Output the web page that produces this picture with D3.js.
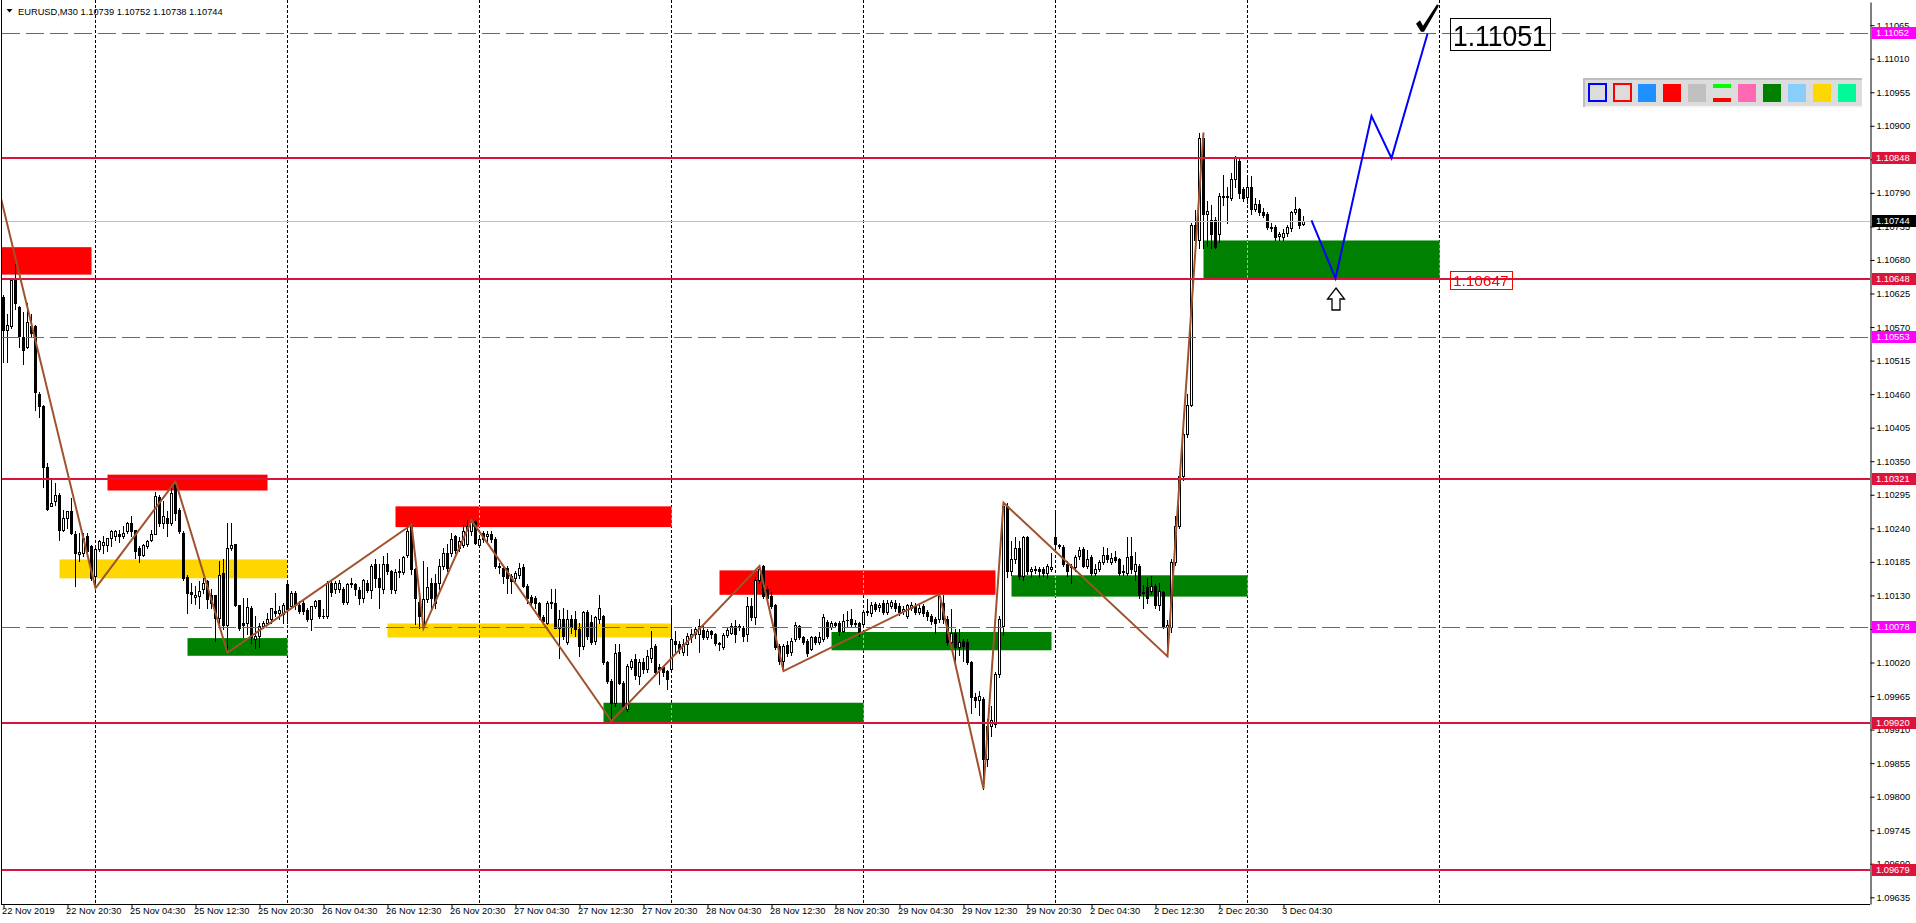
<!DOCTYPE html>
<html><head><meta charset="utf-8">
<script src="https://cdn.jsdelivr.net/npm/d3@7"></script>
<style>
html,body{margin:0;padding:0;background:#fff;overflow:hidden}
svg{display:block}
text{font-family:"Liberation Sans",Arial,sans-serif}
</style></head><body>
<svg id="c" width="1916" height="923"></svg>
<script>
// ---------- DATA (prices in points above 1.09000) ----------
const BASE = 1.09, POINT = 0.00001;
const symbolTitle = "EURUSD,M30";
const lastQuote = ["1.10739","1.10752","1.10738","1.10744"];
const barOpen = [
1620,1565,1571,1647,1603,1554,1538,1571,1571,1461,
1440,1341,1277,1284,1295,1238,1257,1268,1230,1198,
1200,1227,1211,1162,1206,1213,1213,1224,1228,1230,
1227,1235,1249,1238,1208,1197,1211,1221,1231,1292,
1249,1257,1249,1314,1270,1232,1160,1135,1128,1129,
1140,1153,1131,1130,1093,1167,1082,1208,1215,1115,
1085,1084,1110,1058,1063,1080,1085,1091,1104,1101,
1099,1148,1112,1134,1115,1118,1106,1091,1112,1123,
1096,1096,1151,1141,1140,1141,1119,1148,1148,1139,
1125,1151,1139,1181,1159,1140,1182,1170,1139,1168,
1168,1197,1246,1174,1120,1083,1124,1150,1151,1151,
1178,1200,1200,1227,1208,1212,1214,1235,1252,1212,
1232,1227,1231,1222,1178,1175,1175,1162,1159,1164,
1177,1146,1128,1125,1117,1095,1085,1117,1117,1077,
1091,1053,1091,1091,1075,1047,1102,1087,1055,1091,
1096,1020,990,954,1037,987,944,1012,1025,998,
1021,1010,1028,1047,1012,1012,1006,1009,1056,1050,
1037,1050,1062,1066,1066,1074,1061,1072,1066,1052,
1045,1065,1069,1080,1078,1077,1066,1113,1094,1156,
1178,1140,1129,1114,1047,1023,1048,1037,1058,1080,
1061,1055,1042,1061,1053,1058,1086,1079,1085,1085,
1072,1089,1092,1083,1084,1083,1102,1101,1116,1111,
1118,1103,1113,1117,1113,1104,1096,1110,1113,1103,
1113,1103,1097,1092,1091,1118,1091,1053,1069,1046,
1055,1053,1020,964,959,960,862,916,919,1001,
1080,1276,1170,1189,1208,1161,1226,1170,1172,1173,
1174,1167,1174,1225,1211,1210,1182,1178,1176,1194,
1206,1179,1193,1167,1173,1185,1196,1185,1193,1190,
1168,1167,1195,1170,1179,1136,1144,1138,1146,1114,
1135,1079,1079,1185,1243,1325,1395,1442,1738,1712,
1880,1755,1746,1746,1723,1785,1783,1782,1813,1843,
1797,1784,1800,1764,1772,1758,1756,1732,1734,1720,
1718,1725,1733,1758,1764,1739];
const barHigh = [
1622,1592,1650,1674,1605,1595,1609,1592,1573,1463,
1442,1347,1320,1314,1298,1270,1268,1290,1235,1232,
1232,1232,1213,1208,1221,1227,1224,1238,1238,1238,
1243,1251,1260,1238,1211,1215,1221,1238,1300,1295,
1284,1268,1309,1317,1273,1235,1163,1151,1145,1153,
1159,1156,1140,1131,1186,1189,1249,1249,1215,1115,
1126,1126,1112,1096,1085,1088,1101,1110,1134,1112,
1118,1151,1137,1137,1121,1123,1110,1112,1123,1123,
1107,1153,1156,1154,1156,1143,1150,1159,1150,1143,
1157,1156,1181,1189,1181,1195,1200,1172,1173,1189,
1195,1244,1247,1175,1140,1186,1176,1159,1165,1189,
1208,1214,1232,1229,1225,1246,1254,1254,1254,1228,
1236,1235,1235,1225,1183,1178,1178,1165,1170,1183,
1181,1148,1130,1129,1120,1098,1121,1140,1140,1106,
1110,1106,1098,1104,1085,1104,1106,1098,1096,1131,
1098,1023,993,1050,1050,990,1018,1026,1034,1025,
1028,1040,1072,1050,1017,1014,1008,1110,1072,1056,
1058,1068,1075,1078,1091,1080,1075,1074,1068,1054,
1068,1078,1084,1090,1083,1080,1127,1126,1160,1179,
1180,1145,1135,1116,1050,1050,1055,1060,1086,1082,
1063,1058,1063,1063,1070,1100,1090,1088,1087,1088,
1100,1105,1107,1090,1086,1104,1124,1120,1120,1117,
1122,1123,1122,1122,1118,1113,1116,1120,1118,1116,
1116,1106,1100,1095,1132,1130,1097,1108,1075,1075,
1058,1058,1023,970,973,964,928,948,1004,1096,
1282,1281,1220,1225,1219,1228,1228,1177,1178,1177,
1177,1181,1199,1265,1215,1212,1186,1181,1196,1209,
1210,1205,1197,1182,1188,1210,1208,1200,1203,1192,
1180,1226,1226,1201,1182,1147,1159,1161,1149,1151,
1138,1090,1190,1260,1330,1398,1460,1740,1762,1889,
1889,1776,1770,1750,1790,1820,1800,1822,1850,1848,
1800,1818,1818,1782,1778,1766,1758,1740,1737,1726,
1730,1738,1760,1784,1766,1752];
const barLow = [
1513,1513,1568,1600,1538,1510,1536,1554,1434,1423,
1307,1270,1276,1279,1221,1235,1240,1230,1145,1186,
1194,1194,1156,1142,1202,1200,1202,1211,1221,1217,
1224,1232,1227,1192,1184,1194,1208,1219,1230,1243,
1240,1227,1246,1254,1232,1156,1101,1118,1116,1110,
1134,1110,1110,1055,1085,1075,1036,1205,1112,1074,
1061,1066,1052,1044,1046,1077,1082,1085,1096,1091,
1085,1085,1110,1107,1101,1099,1088,1074,1110,1093,
1093,1093,1129,1134,1135,1116,1116,1143,1130,1116,
1120,1135,1126,1143,1110,1134,1165,1134,1134,1160,
1165,1193,1165,1083,1077,1076,1119,1110,1110,1140,
1173,1170,1195,1199,1202,1209,1211,1229,1214,1209,
1218,1220,1218,1175,1167,1151,1134,1134,1153,1159,
1143,1118,1115,1110,1091,1083,1083,1110,1076,1028,
1058,1050,1069,1063,1031,1042,1058,1050,1050,1085,
1017,986,923,948,984,945,940,1009,993,985,
1003,1005,1020,1000,985,998,976,1005,1034,1036,
1032,1033,1054,1060,1037,1058,1058,1060,1048,1040,
1042,1062,1066,1054,1073,1055,1055,1090,1083,1150,
1126,1118,1110,1042,1018,1006,1030,1032,1055,1058,
1050,1030,1040,1050,1050,1055,1060,1075,1078,1065,
1070,1080,1080,1078,1064,1080,1098,1097,1104,1105,
1099,1100,1110,1105,1098,1099,1093,1106,1100,1100,
1096,1090,1083,1069,1087,1085,1048,1048,1023,1032,
1023,1017,937,947,934,813,850,900,915,997,
1065,1160,1164,1183,1157,1155,1165,1160,1166,1160,
1162,1158,1170,1205,1208,1179,1162,1150,1170,1190,
1176,1175,1163,1164,1170,1182,1185,1182,1184,1163,
1163,1163,1167,1155,1126,1109,1117,1133,1109,1106,
1076,1030,1070,1180,1240,1320,1390,1440,1705,1700,
1700,1703,1700,1700,1710,1770,1740,1778,1799,1782,
1776,1774,1755,1760,1754,1750,1730,1728,1712,1713,
1712,1720,1728,1755,1733,1738];
const barClose = [
1565,1573,1647,1609,1555,1532,1579,1560,1463,1441,
1340,1272,1281,1295,1238,1257,1268,1232,1200,1201,
1224,1202,1159,1206,1219,1217,1224,1235,1235,1228,
1233,1249,1235,1202,1197,1213,1220,1231,1293,1249,
1260,1249,1298,1265,1235,1159,1134,1133,1131,1137,
1151,1124,1118,1093,1164,1082,1208,1213,1115,1077,
1082,1111,1061,1063,1080,1085,1091,1110,1101,1106,
1115,1107,1134,1115,1104,1104,1091,1112,1121,1096,
1097,1151,1135,1151,1150,1119,1148,1151,1140,1125,
1155,1139,1179,1159,1143,1182,1170,1140,1168,1170,
1193,1235,1173,1125,1096,1124,1144,1125,1118,1178,
1200,1175,1223,1204,1219,1235,1244,1250,1216,1223,
1223,1231,1222,1178,1177,1162,1159,1154,1167,1175,
1145,1126,1119,1117,1095,1088,1118,1119,1077,1091,
1064,1092,1079,1075,1047,1102,1064,1053,1094,1110,
1020,990,954,1036,987,949,1014,1023,999,1020,
1009,1031,1043,1005,1009,1005,993,1059,1050,1042,
1050,1063,1067,1075,1080,1061,1072,1066,1052,1050,
1065,1073,1080,1066,1080,1063,1113,1094,1156,1173,
1129,1126,1113,1045,1023,1047,1036,1055,1081,1061,
1054,1036,1061,1053,1061,1095,1064,1085,1082,1072,
1088,1090,1083,1084,1069,1102,1104,1115,1108,1115,
1102,1118,1119,1110,1102,1107,1114,1114,1103,1110,
1101,1096,1088,1085,1129,1091,1053,1069,1045,1053,
1047,1020,964,959,965,862,916,926,1001,1091,
1276,1170,1189,1208,1161,1226,1170,1173,1174,1170,
1167,1179,1176,1214,1212,1182,1170,1176,1193,1205,
1179,1190,1167,1173,1185,1196,1190,1191,1188,1167,
1170,1193,1173,1182,1130,1134,1126,1146,1114,1138,
1079,1082,1185,1243,1325,1395,1442,1738,1712,1880,
1755,1760,1722,1702,1785,1783,1785,1813,1848,1790,
1781,1800,1764,1772,1758,1754,1734,1734,1717,1722,
1725,1734,1758,1764,1737,1744];

const timeLabels = ["22 Nov 2019","22 Nov 20:30","25 Nov 04:30","25 Nov 12:30","25 Nov 20:30",
 "26 Nov 04:30","26 Nov 12:30","26 Nov 20:30","27 Nov 04:30","27 Nov 12:30","27 Nov 20:30",
 "28 Nov 04:30","28 Nov 12:30","28 Nov 20:30","29 Nov 04:30","29 Nov 12:30","29 Nov 20:30",
 "2 Dec 04:30","2 Dec 12:30","2 Dec 20:30","3 Dec 04:30"];
const timeLabelStep = 16;                // bars between time labels
const daySeparatorBars = [23,71,119,167,215,263,311,359];
const priceTicks = [1.09635,1.09690,1.09745,1.09800,1.09855,1.09910,1.09965,1.10020,1.10075,1.10130,
 1.10185,1.10240,1.10295,1.10350,1.10405,1.10460,1.10515,1.10570,1.10625,1.10680,1.10735,1.10790,
 1.10845,1.10900,1.10955,1.11010,1.11065];

const redLevels = [1.10848,1.10648,1.10321,1.09920,1.09679];
const magentaLevels = [1.11052,1.10553,1.10078];
const bidLevel = 1.10744;

// rectangles: [bar1, bar2, price points top, price points bottom, colour]
const zones = [
 [-1,22,1701,1656,"#ff0000"],
 [26,66,1328,1302,"#ff0000"],
 [14,71,1189,1158,"#ffd700"],
 [46,71,1060,1031,"#008000"],
 [98,167,1276,1242,"#ff0000"],
 [96,167,1084,1061,"#ffd700"],
 [150,215,954,921,"#008000"],
 [179,248,1171,1131,"#ff0000"],
 [207,262,1070,1040,"#008000"],
 [252,311,1163,1128,"#008000"],
 [300,359,1712,1648,"#008000"]
];
const zigzagBars   = [-1,23,43,56,102,105,117,152,189,195,234,245,250,291,300];
const zigzagPoints = [1791,1142,1317,1036,1246,1076,1253,924,1178,1006,1132,813,1282,1030,1889];
const forecastBars   = [327,333,342,347,356];
const forecastPoints = [1745,1650,1916,1847,2051];
const targetLabel = {bar:361.6, price:1.11051, text:"1.11051"};
const supportLabel = {bar:361.6, price:1.10648, text:"1.10647"};
const arrowMark = {bar:333, price:1.10648};
const paletteColors = ["#0000ff","#ff0000","#1e90ff","#ff0000","#c0c0c0","pair","#ff69b4","#008000","#87cefa","#ffd700","#00fa9a"];
const paletteOutlined = [true,true,false,false,false,false,false,false,false,false,false];

// ---------- SCALES ----------
const pr = v => BASE + v*POINT;
const PL = 2, PR = 1870, PT = 2, PB = 904;
const x = d3.scaleLinear().domain([0,325]).range([3.5,1303.5]);
const y = d3.scaleLinear().domain([1.09624,1.11103]).range([PB,PT]);
const sy = p => Math.round(y(p)) + 0.5;

const svg = d3.select("#c");
svg.append("rect").attr("width",1916).attr("height",923).attr("fill","#fff");
svg.append("defs").append("clipPath").attr("id","plot")
  .append("rect").attr("x",PL).attr("y",0).attr("width",PR-PL).attr("height",PB);
const plot = svg.append("g").attr("clip-path","url(#plot)");
plot.append("rect").attr("x",0).attr("y",0).attr("width",PR).attr("height",PB).attr("fill","#fff");

// zones
plot.append("g").selectAll("rect").data(zones).join("rect")
  .attr("x",d=>x(d[0])).attr("width",d=>x(d[1])-x(d[0]))
  .attr("y",d=>y(pr(d[2]))).attr("height",d=>y(pr(d[3]))-y(pr(d[2])))
  .attr("fill",d=>d[4]);

// day separators (inverting dotted grid)
plot.append("g").style("mix-blend-mode","difference").selectAll("line").data(daySeparatorBars).join("line")
  .attr("x1",d=>x(d)).attr("x2",d=>x(d)).attr("y1",0).attr("y2",PB)
  .attr("stroke","#fff").attr("stroke-width",1).attr("stroke-dasharray","3,2");

// candles
const candles = barOpen.map((o,i)=>({i,o:pr(o),h:pr(barHigh[i]),l:pr(barLow[i]),c:pr(barClose[i])}));
const cg = plot.append("g");
cg.selectAll("line.w").data(candles).join("line").attr("class","w")
  .attr("x1",d=>x(d.i)).attr("x2",d=>x(d.i))
  .attr("y1",d=>Math.round(y(d.h))).attr("y2",d=>Math.round(y(d.l))+1)
  .attr("stroke","#000").attr("stroke-width",1);
candles.forEach(d=>{
  const top = Math.round(y(Math.max(d.o,d.c))), bot = Math.round(y(Math.min(d.o,d.c)));
  if (bot-top < 1) {
    cg.append("line").attr("x1",x(d.i)-1.5).attr("x2",x(d.i)+1.5).attr("y1",top+0.5).attr("y2",top+0.5)
      .attr("stroke","#000");
  } else {
    cg.append("rect").attr("x",x(d.i)-1).attr("width",2).attr("y",top+0.5).attr("height",bot-top)
      .attr("fill",d.c>=d.o?"#fff":"#000").attr("stroke","#000").attr("stroke-width",1);
  }
});

// horizontal levels
plot.append("line").attr("x1",PL).attr("x2",PR).attr("y1",sy(bidLevel)).attr("y2",sy(bidLevel))
  .attr("stroke","#c0c0c0").attr("stroke-width",1);
plot.append("g").selectAll("line").data(magentaLevels).join("line")
  .attr("x1",PL).attr("x2",PR).attr("y1",d=>sy(d)).attr("y2",d=>sy(d))
  .attr("stroke","#ff00ff").attr("stroke-width",1).attr("stroke-dasharray","18,6");
plot.append("g").selectAll("line").data(redLevels).join("line")
  .attr("x1",PL).attr("x2",PR).attr("y1",d=>Math.round(y(d))).attr("y2",d=>Math.round(y(d)))
  .attr("stroke","#dc143c").attr("stroke-width",2);

// zigzag
const lineGen = d3.line().x(d=>x(d[0])).y(d=>y(pr(d[1])));
plot.append("path").datum(zigzagBars.map((b,i)=>[b,zigzagPoints[i]]))
  .attr("d",lineGen).attr("fill","none").attr("stroke","#a0522d").attr("stroke-width",2);
// forecast
plot.append("path").datum(forecastBars.map((b,i)=>[b,forecastPoints[i]]))
  .attr("d",lineGen).attr("fill","none").attr("stroke","#0000ff").attr("stroke-width",2);

// check mark at forecast end
{
  const cx = x(forecastBars[forecastBars.length-1]), by = y(pr(forecastPoints[forecastPoints.length-1]));
  const pts = [[-11.5,-10],[-7.5,-13.5],[-4.5,-8],[9.5,-29.5],[11.5,-28],[-3.5,-2],[-6.5,-2]];
  plot.append("path").attr("d","M"+pts.map(p=>[cx+p[0],by+p[1]].join(",")).join("L")+"Z").attr("fill","#000");
}
// hollow up arrow
{
  const ax = x(arrowMark.bar), ay = y(arrowMark.price)+8;
  const pts = [[0,0],[8.5,11],[4,11],[4,22],[-4,22],[-4,11],[-8.5,11]];
  plot.append("path").attr("d","M"+pts.map(p=>[ax+p[0]+0.5,ay+p[1]+0.5].join(",")).join("L")+"Z")
    .attr("fill","#fff").attr("stroke","#000").attr("stroke-width",1.3);
}
// text labels with frames
function framedLabel(lbl, size, width, color, padX, padTop, padBot, dyBase){
  const lx = x(lbl.bar), cyy = y(lbl.price);
  const base = cyy + dyBase;
  const capTop = base - size*0.716;
  plot.append("rect").attr("x",Math.round(lx)+0.5).attr("y",Math.round(capTop-padTop)+0.5)
    .attr("width",Math.round(width+2*padX)).attr("height",Math.round(size*0.716+padTop+padBot))
    .attr("fill","none").attr("stroke",color).attr("stroke-width",1);
  plot.append("text").attr("x",lx+padX).attr("y",base).attr("font-size",size).attr("fill",color)
    .attr("textLength",width).attr("lengthAdjust","spacingAndGlyphs").text(lbl.text);
}
framedLabel(targetLabel, 30, 94, "#000", 3, 6, 5, 12);
framedLabel(supportLabel, 15.4, 55.6, "#ff0000", 3, 4, 3, 7);

// ---------- FRAME & AXES ----------
svg.append("line").attr("x1",PL-0.5).attr("x2",PL-0.5).attr("y1",0).attr("y2",PB).attr("stroke","#000");
svg.append("line").attr("x1",PL-1).attr("x2",PR).attr("y1",PB+0.5).attr("y2",PB+0.5).attr("stroke","#000");

const yAxis = svg.append("g").attr("transform",`translate(${PR+0.5},0)`)
  .call(d3.axisRight(y).tickValues(priceTicks).tickFormat(d=>d.toFixed(5)).tickSize(4).tickSizeOuter(0).tickPadding(2));
yAxis.select(".domain").attr("stroke","#000");
yAxis.selectAll("text").attr("font-size",9.3).attr("font-family","Liberation Sans, Arial, sans-serif").attr("fill","#000");

const xAxis = svg.append("g").attr("transform",`translate(0,${PB+0.5})`)
  .call(d3.axisBottom(x).tickValues(timeLabels.map((t,i)=>i*timeLabelStep)).tickFormat((d,i)=>timeLabels[i])
    .tickSize(4).tickSizeOuter(0).tickPadding(0));
xAxis.select(".domain").remove();
xAxis.selectAll("text").attr("text-anchor","start").attr("dx",-2).attr("dy","0.71em").attr("y",3).attr("font-size",9.3)
  .attr("font-family","Liberation Sans, Arial, sans-serif").attr("fill","#000");

// price tags on axis
const tags = redLevels.map(p=>({p,c:"#dc143c"}))
  .concat(magentaLevels.map(p=>({p,c:"#ff00ff"})), [{p:bidLevel,c:"#000"}]);
const tg = svg.append("g");
tags.forEach(t=>{
  const cy0 = Math.round(y(t.p));
  tg.append("rect").attr("x",PR+2).attr("y",cy0-6).attr("width",1916-PR-2).attr("height",12).attr("fill",t.c);
  tg.append("text").attr("x",PR+6).attr("y",cy0).attr("dy","0.34em").attr("font-size",9.3).attr("fill","#fff").text(t.p.toFixed(5));
});

// header
svg.append("path").attr("d","M6.5,9 L12.5,9 L9.5,12.5 Z").attr("fill","#000");
svg.append("text").attr("x",18).attr("y",14.5).attr("font-size",9.3).attr("fill","#000")
  .text(symbolTitle + "  " + lastQuote.join(" "));

// palette panel
{
  const px0 = 1583, py0 = 78, pw = 279, ph = 29;
  const pg = svg.append("g");
  pg.append("rect").attr("x",px0).attr("y",py0).attr("width",pw).attr("height",ph).attr("fill","#dcdcdc");
  pg.append("rect").attr("x",px0).attr("y",py0).attr("width",pw).attr("height",2).attr("fill","#bdbdbd");
  pg.append("rect").attr("x",px0).attr("y",py0).attr("width",2).attr("height",ph).attr("fill","#bdbdbd");
  pg.append("rect").attr("x",px0+2).attr("y",py0+ph-1).attr("width",pw-2).attr("height",2).attr("fill","#f5f5f5");
  paletteColors.forEach((c,i)=>{
    const sx = px0 + 5 + i*25, syy = py0 + 6;
    if (paletteOutlined[i]) {
      pg.append("rect").attr("x",sx+1).attr("y",syy).attr("width",17).attr("height",17)
        .attr("fill","#dcdcdc").attr("stroke",c).attr("stroke-width",2);
    } else if (c === "pair") {
      pg.append("rect").attr("x",sx).attr("y",syy).attr("width",18).attr("height",4).attr("fill","#00ff00");
      pg.append("rect").attr("x",sx).attr("y",syy+14).attr("width",18).attr("height",4).attr("fill","#ff0000");
    } else {
      pg.append("rect").attr("x",sx).attr("y",syy).attr("width",18).attr("height",18).attr("fill",c);
    }
  });
}
</script>
</body></html>
